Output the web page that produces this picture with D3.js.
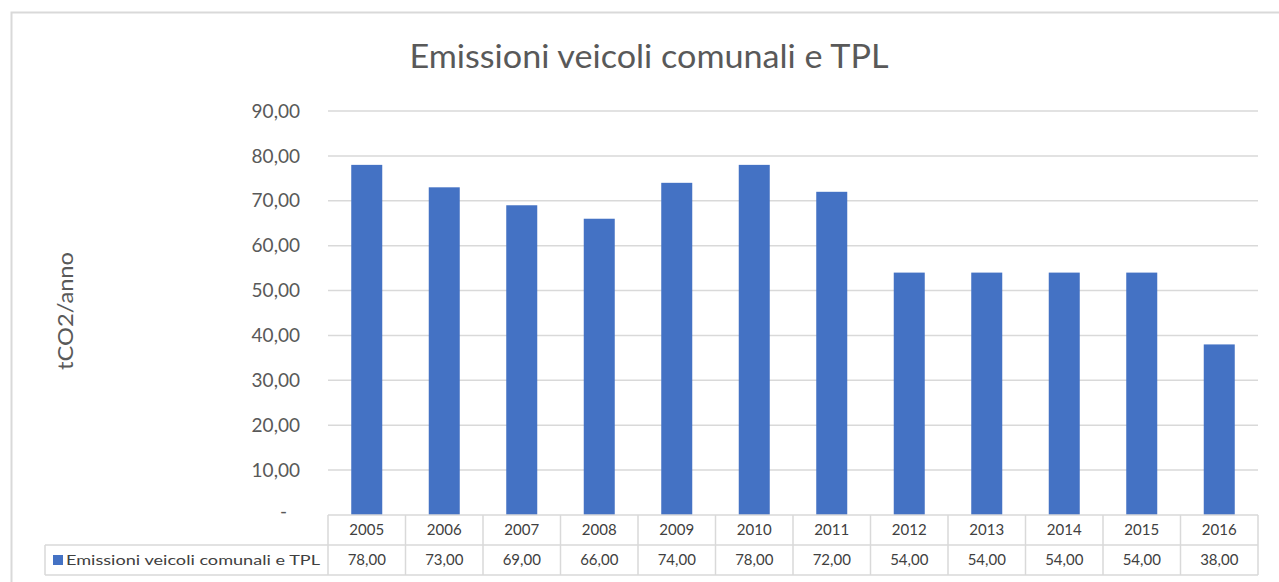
<!DOCTYPE html>
<html>
<head>
<meta charset="utf-8">
<script src="https://cdn.jsdelivr.net/npm/d3@7"></script>
<style>
  body { margin: 0; background: #fff; }
  svg { display: block; }
  text { font-family: Lato, "Open Sans", sans-serif; }
</style>
</head>
<body>
<div id="chart"></div>
<script>
// Data
const years = ['2005', '2006', '2007', '2008', '2009', '2010', '2011', '2012', '2013', '2014', '2015', '2016'];
const emissions = [78, 73, 69, 66, 74, 78, 72, 54, 54, 54, 54, 38];
const yTicks = [0, 10, 20, 30, 40, 50, 60, 70, 80, 90];
const seriesName = 'Emissioni veicoli comunali e TPL';
const chartTitle = 'Emissioni veicoli comunali e TPL';
const yTitle = 'tCO2/anno';

const width = 1279;
const height = 582;
const plot = { left: 328, right: 1258, top: 111, bottom: 515 };
const rowH = 30;
const legendLeft = 45;
const barColor = '#4472C4';
const gridColor = '#d9d9d9';
const textColor = '#595959';

const fmt = v => d3.format('.2f')(v).replace('.', ',');

const svg = d3.select('#chart')
  .append('svg')
  .attr('width', width)
  .attr('height', height);

// Outer chart border
svg.append('rect')
  .attr('x', 11.5)
  .attr('y', 12.5)
  .attr('width', width + 10)
  .attr('height', height + 10)
  .attr('fill', 'none')
  .attr('stroke', gridColor)
  .attr('stroke-width', 2);

const x = d3.scaleBand()
  .domain(years)
  .range([plot.left, plot.right])
  .paddingInner(0.6)
  .paddingOuter(0.3);

// table columns share the category axis but without padding
const xCol = d3.scaleBand()
  .domain(years)
  .range([plot.left, plot.right]);

const y = d3.scaleLinear()
  .domain([0, 90])
  .range([plot.bottom, plot.top]);

// Gridlines
svg.append('g')
  .selectAll('line')
  .data(yTicks.filter(d => d > 0))
  .enter()
  .append('line')
  .attr('x1', plot.left)
  .attr('x2', plot.right)
  .attr('y1', d => y(d))
  .attr('y2', d => y(d))
  .attr('stroke', gridColor)
  .attr('stroke-width', 1.5);

// Y tick labels
svg.append('g')
  .selectAll('text')
  .data(yTicks)
  .enter()
  .append('text')
  .attr('x', d => d === 0 ? 287 : 300)
  .attr('y', d => y(d) - (d === 0 ? 4 : 0))
  .attr('dy', '0.35em')
  .attr('text-anchor', 'end')
  .attr('font-size', 19)
  .attr('fill', textColor)
  .text(d => d === 0 ? '-' : fmt(d));

// Bars
svg.append('g')
  .selectAll('rect')
  .data(years.map((yr, i) => ({ year: yr, value: emissions[i] })))
  .enter()
  .append('rect')
  .attr('x', d => x(d.year))
  .attr('width', x.bandwidth())
  .attr('y', d => y(d.value))
  .attr('height', d => y(0) - y(d.value))
  .attr('fill', barColor);

// Data table
const table = svg.append('g').attr('stroke', gridColor).attr('stroke-width', 1.5).attr('fill', 'none');
const tTop = plot.bottom;
table.append('line').attr('x1', plot.left).attr('x2', plot.right).attr('y1', tTop).attr('y2', tTop);
table.append('line').attr('x1', legendLeft).attr('x2', plot.right).attr('y1', tTop + rowH).attr('y2', tTop + rowH);
table.append('line').attr('x1', legendLeft).attr('x2', plot.right).attr('y1', tTop + rowH * 2).attr('y2', tTop + rowH * 2);
table.selectAll('line.col')
  .data(years.concat(['end']))
  .enter()
  .append('line')
  .attr('class', 'col')
  .attr('x1', d => d === 'end' ? plot.right : xCol(d))
  .attr('x2', d => d === 'end' ? plot.right : xCol(d))
  .attr('y1', tTop)
  .attr('y2', tTop + rowH * 2);
table.append('line').attr('x1', legendLeft).attr('x2', legendLeft).attr('y1', tTop + rowH).attr('y2', tTop + rowH * 2);

// Header row
svg.append('g')
  .selectAll('text')
  .data(years)
  .enter()
  .append('text')
  .attr('x', d => xCol(d) + xCol.bandwidth() / 2)
  .attr('y', tTop + rowH / 2)
  .attr('dy', '0.35em')
  .attr('text-anchor', 'middle')
  .attr('font-size', 15)
  .attr('fill', '#404040')
  .text(d => d);

// Value row
svg.append('g')
  .selectAll('text')
  .data(years.map((yr, i) => ({ year: yr, value: emissions[i] })))
  .enter()
  .append('text')
  .attr('x', d => xCol(d.year) + xCol.bandwidth() / 2)
  .attr('y', tTop + rowH * 1.5)
  .attr('dy', '0.35em')
  .attr('text-anchor', 'middle')
  .attr('font-size', 15)
  .attr('fill', '#404040')
  .text(d => fmt(d.value));

// Legend key in table
svg.append('rect')
  .attr('x', 53)
  .attr('y', tTop + rowH * 1.5 - 5)
  .attr('width', 10)
  .attr('height', 10)
  .attr('fill', barColor);
svg.append('text')
  .attr('x', 66)
  .attr('y', tTop + rowH * 1.5)
  .attr('dy', '0.35em')
  .attr('font-size', 13)
  .attr('fill', '#404040')
  .attr('textLength', 254)
  .attr('lengthAdjust', 'spacingAndGlyphs')
  .text(seriesName);

// Title
svg.append('text')
  .attr('x', 649)
  .attr('y', 68)
  .attr('text-anchor', 'middle')
  .attr('font-size', 33)
  .attr('fill', textColor)
  .attr('textLength', 479)
  .attr('lengthAdjust', 'spacingAndGlyphs')
  .text(chartTitle);

// Y axis title
svg.append('text')
  .attr('transform', 'translate(73,311) rotate(-90)')
  .attr('text-anchor', 'middle')
  .attr('font-size', 22)
  .attr('fill', textColor)
  .attr('textLength', 118)
  .attr('lengthAdjust', 'spacingAndGlyphs')
  .text(yTitle);
</script>
</body>
</html>
